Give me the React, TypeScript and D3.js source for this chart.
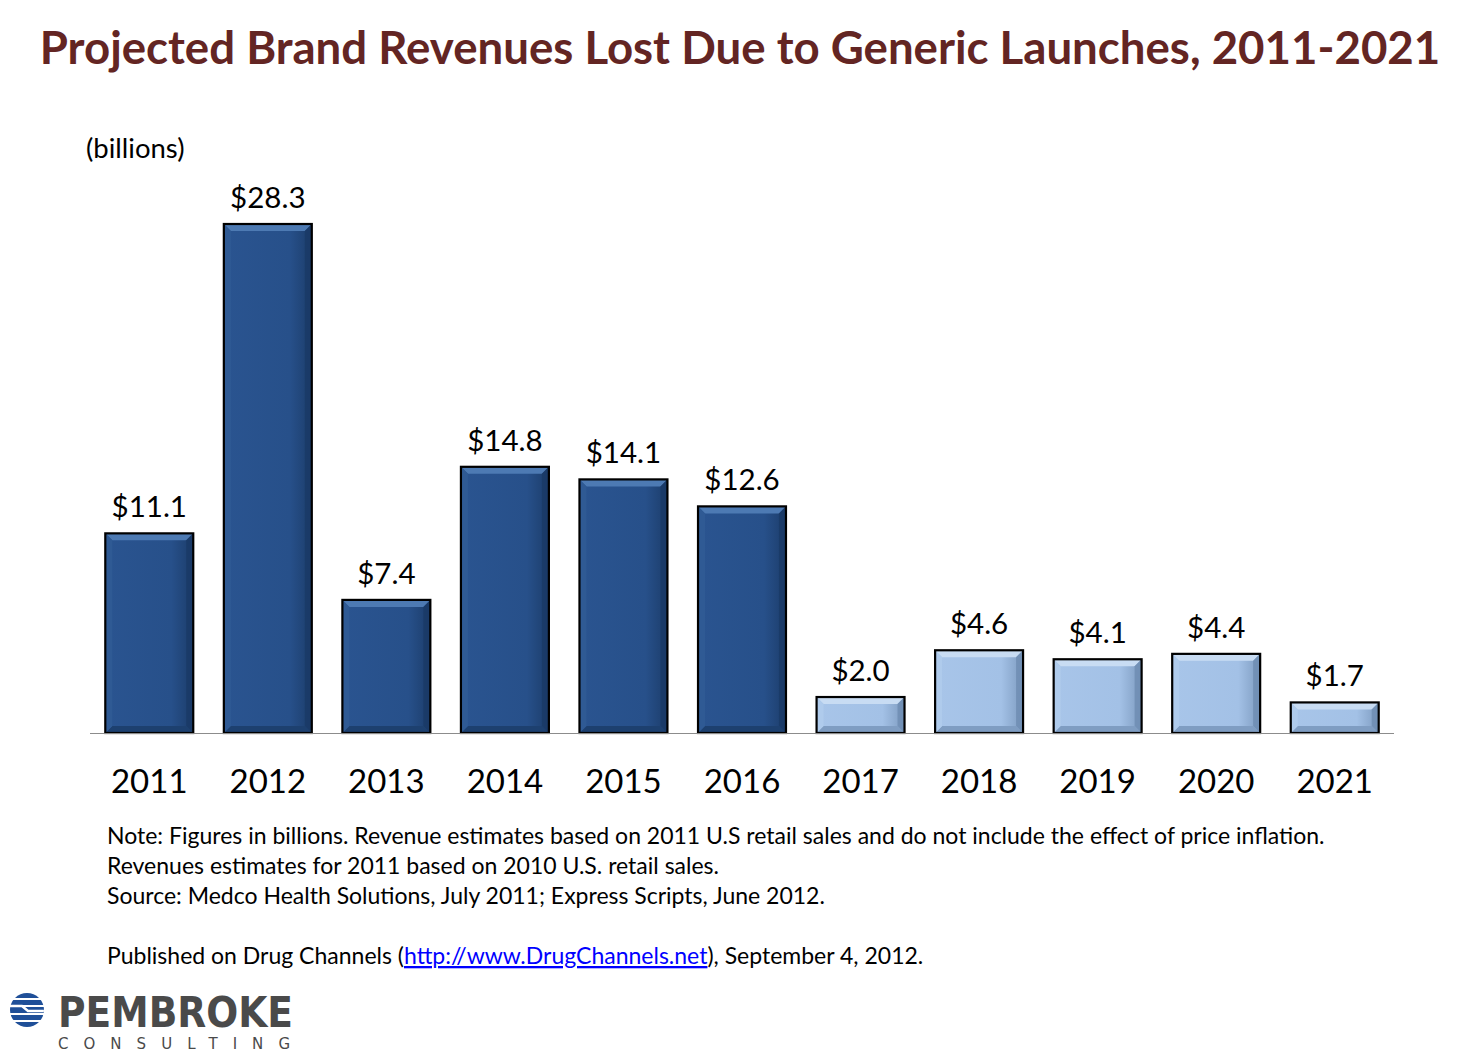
import React from "react";
import * as d3 from "d3";

const years = ["2011","2012","2013","2014","2015","2016","2017","2018","2019","2020","2021"];
const values = [11.1, 28.3, 7.4, 14.8, 14.1, 12.6, 2.0, 4.6, 4.1, 4.4, 1.7];
const projected = [false,false,false,false,false,false,true,true,true,true,true];
const labels = ["$11.1","$28.3","$7.4","$14.8","$14.1","$12.6","$2.0","$4.6","$4.1","$4.4","$1.7"];
const noteLines = [
  "Note: Figures in billions. Revenue estimates based on 2011 U.S retail sales and do not include the effect of price inflation.",
  "Revenues estimates for 2011 based on 2010 U.S. retail sales.",
  "Source: Medco Health Solutions, July 2011; Express Scripts, June 2012.",
];

const FONT = "Lato, 'Open Sans', sans-serif";

export default function App() {
  const W = 1479, H = 1059;
  const baseY = 733;
  const x = d3.scaleBand<string>().domain(years).range([90, 1394]).paddingInner(0.258).paddingOuter(0.129);
  const y = d3.scaleLinear().domain([0, 28.3]).range([baseY, 224]);
  const bw = x.bandwidth();
  const b = 7;

  const dark = { top: "#4d7ab3", right: "#1a3a66", bottom: "#1d406f", left: "#2f5a94" };
  const light = { top: "#c8dcf3", right: "#6f8db3", bottom: "#7f9dc2", left: "#afcbec" };

  return (
    <svg width={W} height={H} style={{ position: "absolute", left: 0, top: 0, background: "#fff" }} fontFamily={FONT}>
      <defs>
        <linearGradient id="gd" x1="0" x2="1" y1="0" y2="0">
          <stop offset="0" stopColor="#2a5490" />
          <stop offset="0.75" stopColor="#27508a" />
          <stop offset="1" stopColor="#1c3d6b" />
        </linearGradient>
        <linearGradient id="gl" x1="0" x2="1" y1="0" y2="0">
          <stop offset="0" stopColor="#a8c5e9" />
          <stop offset="0.75" stopColor="#a3c1e6" />
          <stop offset="1" stopColor="#7d9bc0" />
        </linearGradient>
        <clipPath id="lc"><circle cx={27} cy={1010} r={17} /></clipPath>
      </defs>
      <rect width={W} height={H} fill="#fff" />
      <text x={740} y={64} textAnchor="middle" fontSize={45.6} fontWeight="bold" fill="#632523">
        Projected Brand Revenues Lost Due to Generic Launches, 2011-2021
      </text>
      <text x={86} y={158} fontSize={27.5} fill="#000">(billions)</text>

      {years.map((yr, i) => {
        const x0 = x(yr)!;
        const y0 = y(values[i]);
        const h = baseY - y0;
        const c = projected[i] ? light : dark;
        const bb = Math.min(b, h / 3);
        return (
          <g key={yr}>
            <rect x={x0} y={y0} width={bw} height={h} fill={projected[i] ? "url(#gl)" : "url(#gd)"} />
            <polygon points={`${x0},${y0} ${x0 + bw},${y0} ${x0 + bw - bb},${y0 + bb} ${x0 + bb},${y0 + bb}`} fill={c.top} />
            <polygon points={`${x0 + bw},${y0} ${x0 + bw},${y0 + h} ${x0 + bw - bb},${y0 + h - bb} ${x0 + bw - bb},${y0 + bb}`} fill={c.right} opacity={0.85} />
            <polygon points={`${x0},${y0 + h} ${x0 + bw},${y0 + h} ${x0 + bw - bb},${y0 + h - bb} ${x0 + bb},${y0 + h - bb}`} fill={c.bottom} />
            <polygon points={`${x0},${y0} ${x0 + bb},${y0 + bb} ${x0 + bb},${y0 + h - bb} ${x0},${y0 + h}`} fill={c.left} />
            <rect x={x0} y={y0} width={bw} height={h} fill="none" stroke="#000" strokeWidth={2.2} />
            <text x={x0 + bw / 2} y={y0 - 16} textAnchor="middle" fontSize={29.5} fill="#000">{labels[i]}</text>
            <text x={x0 + bw / 2} y={793} textAnchor="middle" fontSize={33} fill="#000">{yr}</text>
          </g>
        );
      })}
      <line x1={90} x2={1394} y1={baseY + 0.5} y2={baseY + 0.5} stroke="#8c8c8c" strokeWidth={1.2} />

      {noteLines.map((t, i) => (
        <text key={i} x={107} y={844 + i * 30} fontSize={23} fill="#000">{t}</text>
      ))}
      <text x={107} y={964} fontSize={23} fill="#000">
        Published on Drug Channels (
        <tspan fill="#0000ff" textDecoration="underline">http://www.DrugChannels.net</tspan>
        ), September 4, 2012.
      </text>

      {/* logo */}
      <g clipPath="url(#lc)">
        <rect x={8} y={993} width={40} height={5} fill="#1f4f98" />
        <rect x={8} y={1000} width={40} height={5} fill="#1f4f98" />
        <rect x={8} y={1007} width={40} height={6} fill="#1f4f98" />
        <rect x={8} y={1015} width={40} height={5} fill="#1f4f98" />
        <rect x={8} y={1022} width={40} height={6} fill="#1f4f98" />
        <path d="M8,1006 L22,1006 L28,1011 L48,1011" stroke="#fff" strokeWidth={2.5} fill="none" />
      </g>
      <text x={58} y={1027} fontSize={42} fontWeight="bold" fill="#4a4a4a" fontFamily="'DejaVu Sans', sans-serif" textLength={235} lengthAdjust="spacingAndGlyphs">PEMBROKE</text>
      <text x={58} y={1049} fontSize={15} fill="#4a4a4a" fontFamily="'DejaVu Sans', sans-serif" textLength={232} lengthAdjust="spacing">CONSULTING</text>
    </svg>
  );
}
